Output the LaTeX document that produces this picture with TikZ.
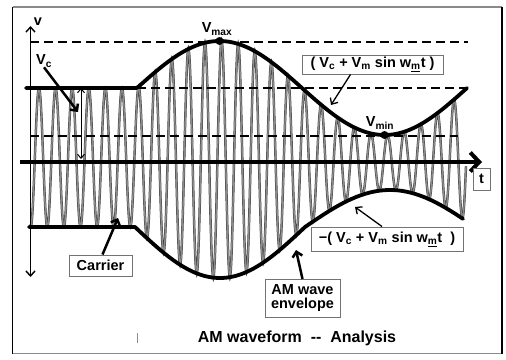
\documentclass[tikz,border=0pt]{standalone}
\usepackage{fontspec}
\setmainfont{Liberation Sans}
\usetikzlibrary{arrows.meta}
\definecolor{WaveGray}{HTML}{8C8C8C}
\definecolor{FrameGray}{HTML}{8A8A8A}
\newcommand{\lowsub}[1]{\textsubscript{#1}}

\begin{document}
\begin{tikzpicture}[
    x=1pt, y=-1pt,
    declare function={
      upenv(\x) = (\x<137) ? 88 : 88-47*sin((\x-137)*1.0909);
      lowsin(\x) = sin((\x-135)*1.0588);
      lowenv(\x) = (\x<135) ? 227 : 227+lowsin(\x)*((lowsin(\x)>0) ? 51 : 37);
    },
    labelbox/.style={draw=black!55, line width=1pt, fill=white, inner xsep=3pt, inner ysep=1.5pt,
      font=\fontsize{14.5}{16}\selectfont\bfseries, align=center},
    plainlabel/.style={inner sep=0pt, font=\fontsize{14.5}{16}\selectfont\bfseries},
    pointer/.style={-{Straight Barb[length=5pt,width=10pt]}, line width=2.5pt},
    thinpointer/.style={-{Straight Barb[length=5pt,width=9pt]}, line width=1.3pt},
    guide/.style={dash pattern=on 9pt off 5pt, line width=1.4pt},
    envelope/.style={line width=3.8pt, line join=round, line cap=round},
    carrierwave/.style={draw=black!75, double=WaveGray, double distance=1.4pt, line width=0.5pt},
    peakdot/.style={circle, fill=black, inner sep=0pt, minimum size=8pt}
  ]
    \useasboundingbox (0,0) rectangle (506,359);
    % frame
    \draw[FrameGray, line width=1.5pt] (12.5,7) -- (502,7) (12.5,353.5) -- (502,353.5);
    \draw[black, line width=1.5pt] (12.5,7) -- (12.5,353.5) (502,7) -- (502,353.5);

    % carrier under the envelopes
    \draw[carrierwave] plot[domain=30:466, samples=1000, variable=\t]
      (\t, {0.5*(upenv(\t)+lowenv(\t)) - 0.5*(lowenv(\t)-upenv(\t))*cos((\t-39)*21.687)});

    \draw[guide] (30,42) -- (468,42);
    \draw[guide] (137,88) -- (468,88);
    \draw[guide] (30,136) -- (458,136);

    % axes
    \coordinate (v0) at (30.5,277);
    \coordinate (v1) at (30.5,26);
    \coordinate (t0) at (20,162);
    \coordinate (t1) at (482,162);
    \draw[{Straight Barb[length=5pt,width=9pt]}-{Straight Barb[length=5pt,width=9pt]}, line width=1.4pt] (v0) -- (v1);
    \draw[-{Straight Barb[length=9pt,width=19pt]}, line width=4pt] (t0) -- (t1);
    \node[plainlabel] (vlbl) at (38,22) {v};
    \node[labelbox, minimum width=17pt, minimum height=22pt, inner sep=0pt] (tlbl) at (481.5,179) {t};

    % envelopes
    \draw[envelope] plot[domain=26:467, samples=221, variable=\t] (\t,{upenv(\t)});
    \draw[envelope] plot[domain=29:463, samples=218, variable=\t] (\t,{lowenv(\t)});

    \node[peakdot] (vmax) at (219.5,{upenv(219.5)}) {};
    \node[peakdot] (vmin) at (384.5,{upenv(384.5)}) {};
    \node[plainlabel] (vmaxlbl) at (217,29) {V\lowsub{max}};
    \node[plainlabel] (vminlbl) at (380,123) {V\lowsub{min}};

    % carrier amplitude
    \node[plainlabel] (vclbl) at (44,61) {V\lowsub{c}};
    \coordinate (vctip) at (78,112);
    \coordinate (vctop) at (81,88);
    \coordinate (vcbot) at (81,159);
    \draw[pointer] (vclbl.south) -- (vctip);
    \draw[{Straight Barb[length=4pt,width=7pt]}-{Straight Barb[length=4pt,width=7pt]}, line width=1pt] (vctop) -- (vcbot);

    % boxed labels
    \node[labelbox, minimum width=141pt, minimum height=19pt] (upbox) at (372.5,64.5)
      {( V\lowsub{c} + V\lowsub{m} sin w\lowsub{\underline{m}}t )};
    \node[labelbox, minimum width=152pt, minimum height=24pt] (lowbox) at (387,239)
      {−( V\lowsub{c} + V\lowsub{m} sin w\lowsub{\underline{m}}t\ \ )};
    \node[labelbox, minimum width=75pt, minimum height=38pt, inner ysep=1pt] (envbox) at (302.5,298.5)
      {AM wave\\[-2pt]envelope};
    \node[labelbox, minimum width=63pt, minimum height=21pt] (carrier) at (100.5,265.5) {Carrier};

    \coordinate (uptip) at (331,105);
    \coordinate (lowtip) at (355,207);
    \coordinate (envtip) at (296,250);
    \coordinate (cartip) at (118,218);
    \draw[thinpointer] ([xshift=-22pt]upbox.south) -- (uptip);
    \draw[thinpointer] ([xshift=-5pt]lowbox.north) -- (lowtip);
    \draw[pointer] (envbox.north) -- (envtip);
    \draw[pointer] ([xshift=2pt]carrier.north) -- (cartip);

    \draw[black!45, line width=0.8pt] (137,333) -- (137,343);
    \node[plainlabel, font=\fontsize{16}{18}\selectfont\bfseries] (title) at (297,338) {AM waveform\ \ -{}-\ \ Analysis};
  \end{tikzpicture}
\end{document}
